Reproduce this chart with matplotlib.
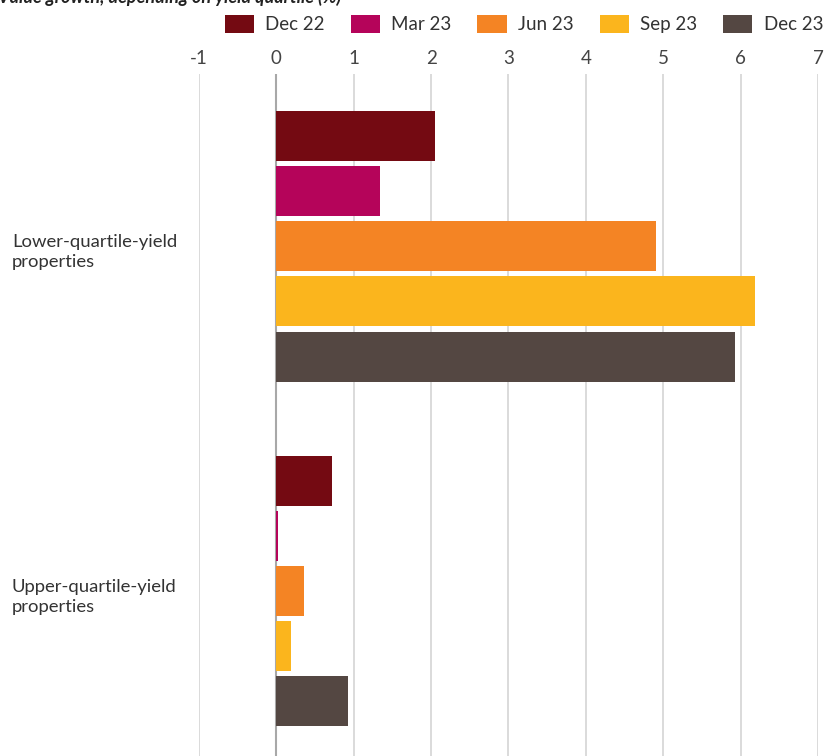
import matplotlib.pyplot as plt
import numpy as np
from matplotlib.patches import Patch

plt.rcParams["font.family"] = ["Lato", "DejaVu Sans"]

# Daten
categories = ["Lower-quartile-yield\nproperties", "Upper-quartile-yield\nproperties"]
series = ["Dec 22", "Mar 23", "Jun 23", "Sep 23", "Dec 23"]
values = {
    "Dec 22": [2.05, 0.72],
    "Mar 23": [1.34, 0.02],
    "Jun 23": [4.90, 0.36],
    "Sep 23": [6.19, 0.19],
    "Dec 23": [5.93, 0.92],
}
colors = ["#740A12", "#B5045A", "#F48424", "#FBB51D", "#544742"]
xticks = [-1, 0, 1, 2, 3, 4, 5, 6, 7]

fig = plt.figure(figsize=(8.29, 7.56), dpi=100)
ax = fig.add_axes([199 / 829, 0, (818 - 199) / 829, (756 - 74) / 756])

y = np.arange(len(categories))
step = 0.16
for i, (name, col) in enumerate(zip(series, colors)):
    ax.barh(y + (i - 2) * step, values[name], height=0.145, color=col, zorder=3)

ax.set_xlim(-1, 7)
ax.set_ylim(1.479, -0.5)
ax.set_xticks(xticks)
ax.set_xticklabels([str(t) for t in xticks])
ax.xaxis.tick_top()
ax.tick_params(axis="x", length=0, pad=5, labelsize=13.5, labelcolor="#444444")
ax.set_yticks([])
ax.grid(axis="x", color="#d4d4d4", lw=1.2, zorder=0)
ax.axvline(0, color="#a8a8a8", lw=1.5, zorder=2)
for s in ax.spines.values():
    s.set_visible(False)

# Kategorienbeschriftung links
for yi, lab in zip(y, categories):
    fig.text(12 / 829, 1 - (80 + (yi + 0.5) * 344.5) / 756, lab, ha="left",
             va="center", fontsize=13.3, color="#333333", linespacing=1.3)

# Titel (oben abgeschnitten)
fig.text(-0.002, 1 - 3 / 756, "Value growth, depending on yield quartile (%)",
         ha="left", va="baseline", fontsize=13, fontweight="bold",
         fontstyle="italic", color="#222222")

handles = [Patch(facecolor=c, label=s) for s, c in zip(series, colors)]
fig.legend(handles=handles, loc="upper right", bbox_to_anchor=(1.002, 0.99),
           ncol=5, frameon=False, fontsize=13.5, handlelength=1.55,
           handleheight=1.1, handletextpad=0.6, columnspacing=1.4,
           labelcolor="#333333", borderaxespad=0)

fig.savefig("out.png", dpi=100)
